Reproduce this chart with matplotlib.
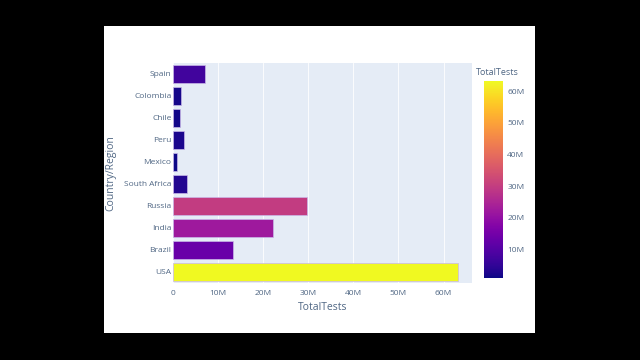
import matplotlib.pyplot as plt
import matplotlib as mpl
from matplotlib.patches import Rectangle
from matplotlib.ticker import FuncFormatter

plt.rcParams['font.family'] = ['Open Sans', 'DejaVu Sans']

# data (bottom to top)
countries = ["USA", "Brazil", "India", "Russia", "South Africa",
             "Mexico", "Peru", "Chile", "Colombia", "Spain"]
total_tests = [63.2e6, 13.3e6, 22.2e6, 29.8e6, 3.1e6,
               1.0e6, 2.4e6, 1.7e6, 1.8e6, 7.1e6]

text_col = '#506784'
bg_col = '#E5ECF6'

fig = plt.figure(figsize=(6.4, 3.6), dpi=100, facecolor='black')
# white panel of the screenshot
fig.patches.append(Rectangle((0.1625, 0.075), 0.6735, 0.853, transform=fig.transFigure,
                             facecolor='white', edgecolor='none', zorder=-10))

ax = fig.add_axes([0.270, 0.214, 0.4675, 0.611])
ax.set_facecolor(bg_col)

vmin, vmax = min(total_tests), max(total_tests)
norm = mpl.colors.Normalize(vmin=vmin, vmax=vmax)
cmap = plt.get_cmap('plasma')

ax.barh(countries, total_tests, height=0.8, color=cmap(norm(total_tests)),
        edgecolor='#c9b8e8', linewidth=0.5, zorder=3)

ax.set_xlim(0, 66.3e6)
ax.set_ylim(-0.5, len(countries) - 0.5)
ax.set_xticks([0, 10e6, 20e6, 30e6, 40e6, 50e6, 60e6])
ax.xaxis.set_major_formatter(FuncFormatter(lambda v, p: '0' if v == 0 else f'{v/1e6:.0f}M'))
ax.grid(axis='x', color='white', linewidth=0.6, zorder=1)
for s in ax.spines.values():
    s.set_visible(False)
ax.tick_params(length=0, labelsize=6.0, labelcolor=text_col)
ax.tick_params(axis='x', pad=5)
ax.tick_params(axis='y', pad=1)
ax.set_xlabel("TotalTests", fontsize=7.5, color=text_col, labelpad=4)
ax.set_ylabel("Country/Region", fontsize=7.5, color=text_col)
ax.yaxis.set_label_coords(-0.19, 0.5)

# colorbar
cax = fig.add_axes([0.756, 0.228, 0.030, 0.547])
cb = fig.colorbar(mpl.cm.ScalarMappable(norm=norm, cmap=cmap), cax=cax)
cb.outline.set_visible(False)
cb.set_ticks([10e6, 20e6, 30e6, 40e6, 50e6, 60e6])
cb.ax.yaxis.set_major_formatter(FuncFormatter(lambda v, p: f'{v/1e6:.0f}M'))
cb.ax.tick_params(length=0, labelsize=6.0, labelcolor=text_col, pad=3)
fig.text(0.744, 0.785, "TotalTests", fontsize=6.5, color=text_col, ha='left', va='bottom')

plt.savefig("out.png", dpi=100, facecolor='black')
